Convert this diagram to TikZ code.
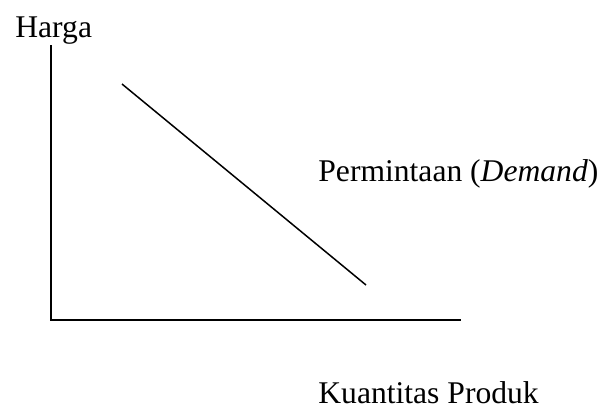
\documentclass[tikz,border=0pt]{standalone}
\usepackage{fontspec}
\setmainfont{Liberation Serif}
\usetikzlibrary{positioning}

\tikzset{label text/.style={anchor=base west,inner sep=0pt,font=\fontsize{15.8}{19}\selectfont}}

\begin{document}
\begin{tikzpicture}[x=0.5pt,y=-0.5pt]
 \useasboundingbox (0,0) rectangle (603,408);
 \draw [line width=1pt](51,45)--(51,320)--(461,320); 
 \draw [line width=0.75pt](122,84)--(366,285); 
 \node [label text] (harga) at (15,37) {Harga}; 
 \node [label text] (demand) at (318,181) {Permintaan (\textit{Demand})}; 
 \node [label text] (kuantitas) at (318,403) {Kuantitas Produk}; 
\end{tikzpicture}
\end{document}
